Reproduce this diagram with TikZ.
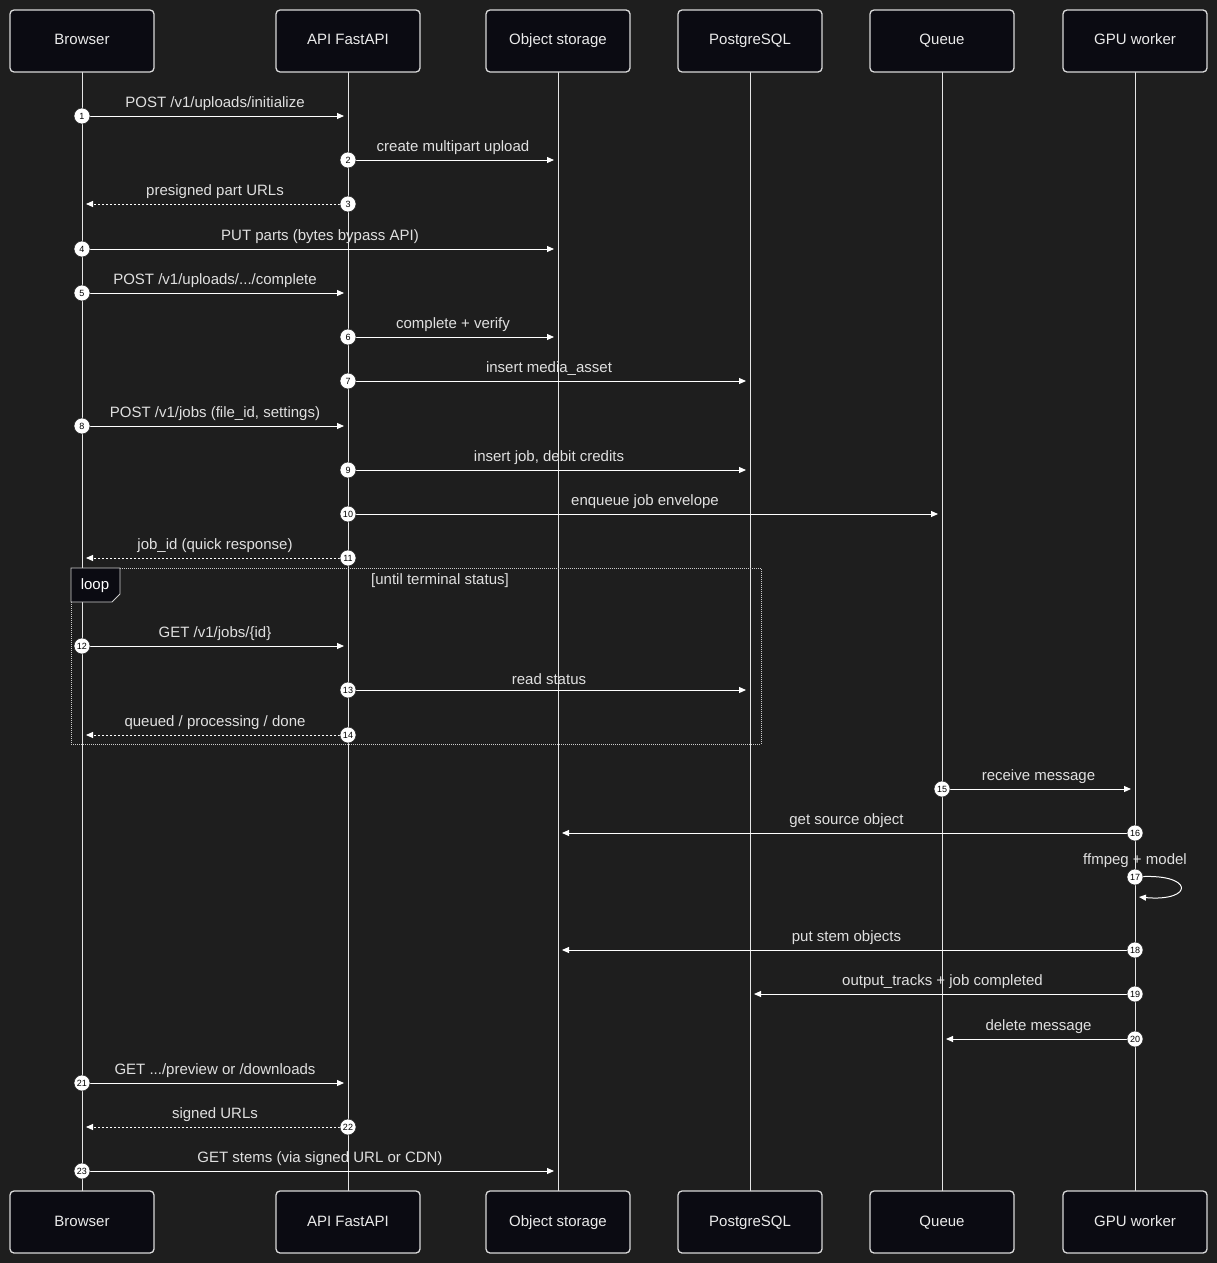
\documentclass[tikz,border=0pt]{standalone}
\usepackage{fontspec}
\setmainfont{Liberation Sans}
\usetikzlibrary{arrows.meta}
\definecolor{bg}{HTML}{1E1E1E}
\definecolor{boxfill}{HTML}{0B0B12}
\definecolor{txt}{HTML}{E0E0E0}
\begin{document}
\begin{tikzpicture}[x=1pt,y=-1pt,font=\fontsize{15}{17}\selectfont,
  actor/.style={draw=white!85!black,fill=boxfill,rounded corners=4pt,line width=1.3pt,minimum width=144pt,minimum height=62pt,text=white!92!black,text height=11pt,text depth=3pt},
  life/.style={draw=white!90!black,line width=1pt},
  msg/.style={draw=white,line width=1pt,-{Triangle[length=7pt,width=6pt]},shorten >=4pt},
  ret/.style={msg,dash pattern=on 2pt off 2pt},
  num/.style={circle,fill=white,draw=bg,line width=0.5pt,inner sep=0pt,minimum size=16pt,font=\fontsize{9}{10}\selectfont,text=black},
  lbl/.style={text=txt,font=\fontsize{15}{17}\selectfont}]
\fill[bg] (0,0) rectangle (1217,1263);
\useasboundingbox (0,0) rectangle (1217,1263);
\foreach \n/\x/\t in {B/82/Browser,A/348/API FastAPI,S/558/Object storage,P/750/PostgreSQL,Q/942/Queue,G/1135/GPU worker}{
  \coordinate (\n) at (\x,0);
  \draw[life] (\x,72) -- (\x,1191);
  \node[actor] (\n top) at (\x,41) {\t};
  \node[actor] (\n bot) at (\x,1222) {\t};
}
% loop box
\draw[white!80!black,line width=0.8pt,dash pattern=on 1pt off 1pt] (71,568) rectangle (761,744);
\draw[white!80!black,fill=boxfill,line width=0.8pt] (71,568) -- (120,568) -- (120,594) -- (112,602) -- (71,602) -- cycle;
\node[lbl,text=white] (looplbl) at (95,586) {loop};
\node[lbl] (cond) at (440,581) {[until terminal status]};
\newcommand{\msgx}[6]{%
  \draw[#6] (#1|-0,#3) -- node[lbl,above=2pt] {#5} (#2|-0,#3);
  \node[num] at (#1|-0,#3) {#4};}
\msgx{B}{A}{116}{1}{POST /v1/uploads/initialize}{msg}
\msgx{A}{S}{160}{2}{create multipart upload}{msg}
\msgx{A}{B}{204}{3}{presigned part URLs}{ret}
\msgx{B}{S}{249}{4}{PUT parts (bytes bypass API)}{msg}
\msgx{B}{A}{293}{5}{POST /v1/uploads/.../complete}{msg}
\msgx{A}{S}{337}{6}{complete + verify}{msg}
\msgx{A}{P}{381}{7}{insert media\_asset}{msg}
\msgx{B}{A}{426}{8}{POST /v1/jobs (file\_id, settings)}{msg}
\msgx{A}{P}{470}{9}{insert job, debit credits}{msg}
\msgx{A}{Q}{514}{10}{enqueue job envelope}{msg}
\msgx{A}{B}{558}{11}{job\_id (quick response)}{ret}
\msgx{B}{A}{646}{12}{GET /v1/jobs/\{id\}}{msg}
\msgx{A}{P}{690}{13}{read status}{msg}
\msgx{A}{B}{735}{14}{queued / processing / done}{ret}
\msgx{Q}{G}{789}{15}{receive message}{msg}
\msgx{G}{S}{833}{16}{get source object}{msg}
\draw[msg,shorten >=0pt] (G|-0,877) .. controls (1195,872) and (1195,902) .. (1139,897);
\node[lbl] (l17) at (1135,861) {ffmpeg + model};
\node[num] (n17) at (1135,877) {17};
\msgx{G}{S}{950}{18}{put stem objects}{msg}
\msgx{G}{P}{994}{19}{output\_tracks + job completed}{msg}
\msgx{G}{Q}{1039}{20}{delete message}{msg}
\msgx{B}{A}{1083}{21}{GET .../preview or /downloads}{msg}
\msgx{A}{B}{1127}{22}{signed URLs}{ret}
\msgx{B}{S}{1171}{23}{GET stems (via signed URL or CDN)}{msg}
\end{tikzpicture}
\end{document}
